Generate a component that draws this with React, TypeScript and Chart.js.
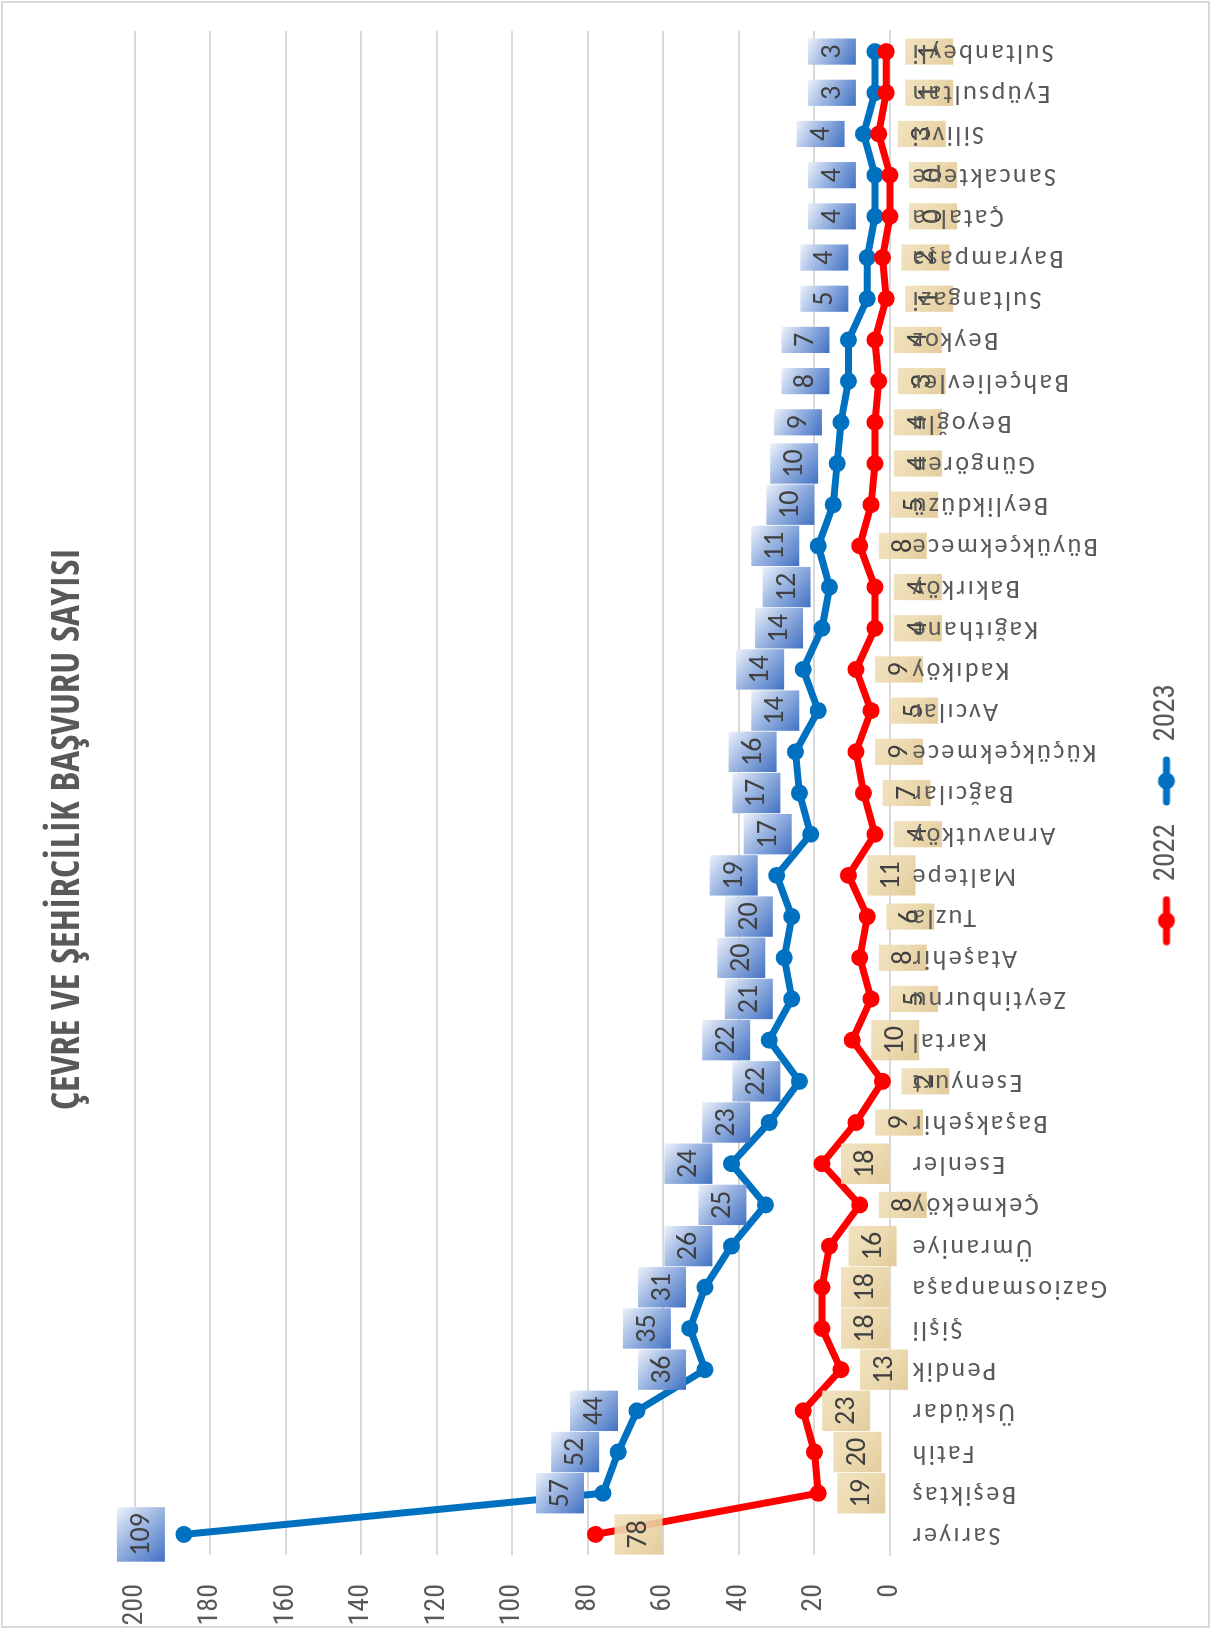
import React, { useEffect, useRef } from "react";
import { Chart, registerables } from "chart.js";

Chart.register(...registerables);

const titleText = "ÇEVRE VE ŞEHİRCİLİK BAŞVURU SAYISI";
const categories = [
  "Sarıyer", "Beşiktaş", "Fatih", "Üsküdar", "Pendik", "Şişli", "Gaziosmanpaşa",
  "Ümraniye", "Çekmeköy", "Esenler", "Başakşehir", "Esenyurt", "Kartal", "Zeytinburnu",
  "Ataşehir", "Tuzla", "Maltepe", "Arnavutköy", "Bağcılar", "Küçükçekmece", "Avcılar",
  "Kadıköy", "Kağıthane", "Bakırköy", "Büyükçekmece", "Beylikdüzü", "Güngören", "Beyoğlu",
  "Bahçelievler", "Beykoz", "Sultangazi", "Bayrampaşa", "Çatalca", "Sancaktepe", "Silivri",
  "Eyüpsultan", "Sultanbeyli",
];
const seriesNames = ["2022", "2023"];
const values2022 = [78, 19, 20, 23, 13, 18, 18, 16, 8, 18, 9, 2, 10, 5, 8, 6, 11, 4, 7, 9, 5, 9, 4, 4, 8, 5, 4, 4, 3, 4, 1, 2, 0, 0, 3, 1, 1];
const values2023 = [109, 57, 52, 44, 36, 35, 31, 26, 25, 24, 23, 22, 22, 21, 20, 20, 19, 17, 17, 16, 14, 14, 14, 12, 11, 10, 10, 9, 8, 7, 5, 4, 4, 4, 4, 3, 3];
const valueMin = 0;
const valueMax = 200;
const valueStep = 20;

const W = 1629;
const H = 1211;
const RED = "#FF0000";
const BLUE = "#0070C0";
const COND = '"Roboto Condensed", sans-serif';
const TITLE_FONT = '"Open Sans Condensed", "Roboto Condensed", sans-serif';
const CALIBRI = 'Carlito, Calibri, sans-serif';
const PAD_B = 20;
const AREA_BOTTOM = 890;
const LEGEND_SHIFT = 28;

function makeLegendMarker(color: string) {
  const c = document.createElement("canvas");
  c.width = 50;
  c.height = 20;
  const g = c.getContext("2d")!;
  g.strokeStyle = color;
  g.lineWidth = 7;
  g.lineCap = "round";
  g.beginPath();
  g.moveTo(4, 10);
  g.lineTo(46, 10);
  g.stroke();
  g.fillStyle = color;
  g.beginPath();
  g.arc(25, 10, 8.5, 0, Math.PI * 2);
  g.fill();
  return c;
}

const backgroundPlugin = {
  id: "bgBorder",
  afterLayout(chart: any) {
    if (chart.legend) chart.legend.left += LEGEND_SHIFT;
  },
  beforeDraw(chart: any) {
    const ctx = chart.ctx;
    ctx.save();
    ctx.fillStyle = "#ffffff";
    ctx.fillRect(0, 0, chart.width, chart.height);
    ctx.strokeStyle = "#D9D9D9";
    ctx.lineWidth = 2;
    ctx.strokeRect(2, 2, chart.width - 4, chart.height - 4);
    ctx.restore();
  },
  afterDraw(chart: any) {
    (chart.ctx as any).letterSpacing = "0px";
  },
};

const boxLabelPlugin = {
  id: "boxLabels",
  afterDatasetsDraw(chart: any) {
    const ctx = chart.ctx;
    ctx.save();
    ctx.font = "28px " + CALIBRI;
    ctx.textAlign = "center";
    ctx.textBaseline = "middle";
    chart.data.datasets.forEach((ds: any, di: number) => {
      const meta = chart.getDatasetMeta(di);
      if (meta.hidden) return;
      meta.data.forEach((pt: any, i: number) => {
        const txt = String(ds.data[i]);
        const w = ctx.measureText(txt).width + 12;
        const h = 48;
        const cx = pt.x;
        const cy = di === 0 ? pt.y + 43 : pt.y - 43;
        const x0 = cx - w / 2;
        const y0 = cy - h / 2;
        const grad = ctx.createLinearGradient(x0 + w, y0, x0, y0 + h);
        if (di === 0) {
          grad.addColorStop(0, "rgba(240,224,186,0.9)");
          grad.addColorStop(0.5, "rgba(234,214,168,0.9)");
          grad.addColorStop(1, "rgba(224,198,145,0.9)");
        } else {
          grad.addColorStop(0, "#edf2fa");
          grad.addColorStop(0.4, "#a3bbe4");
          grad.addColorStop(1, "#4171c3");
        }
        ctx.fillStyle = grad;
        ctx.fillRect(x0, y0, w, h);
        ctx.fillStyle = "#404040";
        ctx.fillText(txt, cx, cy + 1);
      });
    });
    ctx.restore();
    // wider letter spacing for the category labels drawn next (z: 1 layer)
    (ctx as any).letterSpacing = "2.5px";
  },
};

export default function App() {
  const canvasRef = useRef<HTMLCanvasElement | null>(null);

  useEffect(() => {
    const canvas = canvasRef.current;
    if (!canvas) return;
    const markers = [makeLegendMarker(RED), makeLegendMarker(BLUE)];
    const chart = new Chart(canvas, {
      type: "line",
      data: {
        labels: categories,
        datasets: [
          {
            label: seriesNames[0],
            data: values2022,
            borderColor: RED,
            backgroundColor: RED,
            pointBackgroundColor: RED,
            pointBorderWidth: 0,
            pointRadius: 8.5,
            borderWidth: 7,
            tension: 0,
            fill: false,
            clip: false,
          } as any,
          {
            label: seriesNames[1],
            data: values2023,
            borderColor: BLUE,
            backgroundColor: BLUE,
            pointBackgroundColor: BLUE,
            pointBorderWidth: 0,
            pointRadius: 8.5,
            borderWidth: 7,
            tension: 0,
            fill: false,
            clip: false,
          } as any,
        ],
      },
      options: {
        responsive: false,
        animation: false,
        devicePixelRatio: 1,
        layout: { padding: { left: 0, right: 29, top: 0, bottom: PAD_B } },
        plugins: {
          tooltip: { enabled: false },
          title: {
            display: true,
            text: titleText,
            color: "#595959",
            font: { family: TITLE_FONT, size: 39, weight: "bold" },
            padding: { top: 45, bottom: 43 },
          },
          legend: {
            position: "bottom",
            labels: {
              usePointStyle: true,
              pointStyleWidth: 50,
              color: "#595959",
              font: { family: COND, size: 29 },
              padding: 18,
              generateLabels: (ch: any) => {
                const items = (Chart.defaults.plugins.legend.labels as any).generateLabels(ch);
                items.forEach((it: any, i: number) => {
                  it.pointStyle = markers[i];
                });
                return items;
              },
            },
          },
        },
        scales: {
          x: {
            type: "category",
            offset: true,
            grid: { display: false, drawTicks: false },
            border: { display: true, color: "#D9D9D9", width: 2 },
            ticks: {
              autoSkip: false,
              maxRotation: 90,
              minRotation: 90,
              padding: 20,
              color: "#595959",
              font: { family: CALIBRI, size: 26 },
              z: 1,
            } as any,
            afterFit: (s: any) => {
              const lh = s.chart.legend ? s.chart.legend.height : 56;
              s.height = H - AREA_BOTTOM - lh - PAD_B;
            },
          },
          y: {
            stacked: true,
            min: valueMin,
            max: valueMax,
            ticks: {
              stepSize: valueStep,
              padding: 29,
              color: "#595959",
              font: { family: COND, size: 28 },
            },
            grid: { color: "#D9D9D9", lineWidth: 2, drawTicks: false },
            border: { display: false },
            afterFit: (s: any) => {
              s.width = 74;
            },
          },
        },
      },
      plugins: [backgroundPlugin, boxLabelPlugin],
    });
    return () => chart.destroy();
  }, []);

  return (
    <div
      style={{
        position: "absolute",
        left: 0,
        top: 0,
        width: H,
        height: W,
        overflow: "hidden",
        background: "#fff",
      }}
    >
      <div
        style={{
          position: "absolute",
          left: 0,
          top: 0,
          width: W,
          height: H,
          transformOrigin: "0 0",
          transform: `translateY(${W}px) rotate(-90deg)`,
        }}
      >
        <canvas ref={canvasRef} width={W} height={H} style={{ display: "block", width: W, height: H }} />
      </div>
    </div>
  );
}
